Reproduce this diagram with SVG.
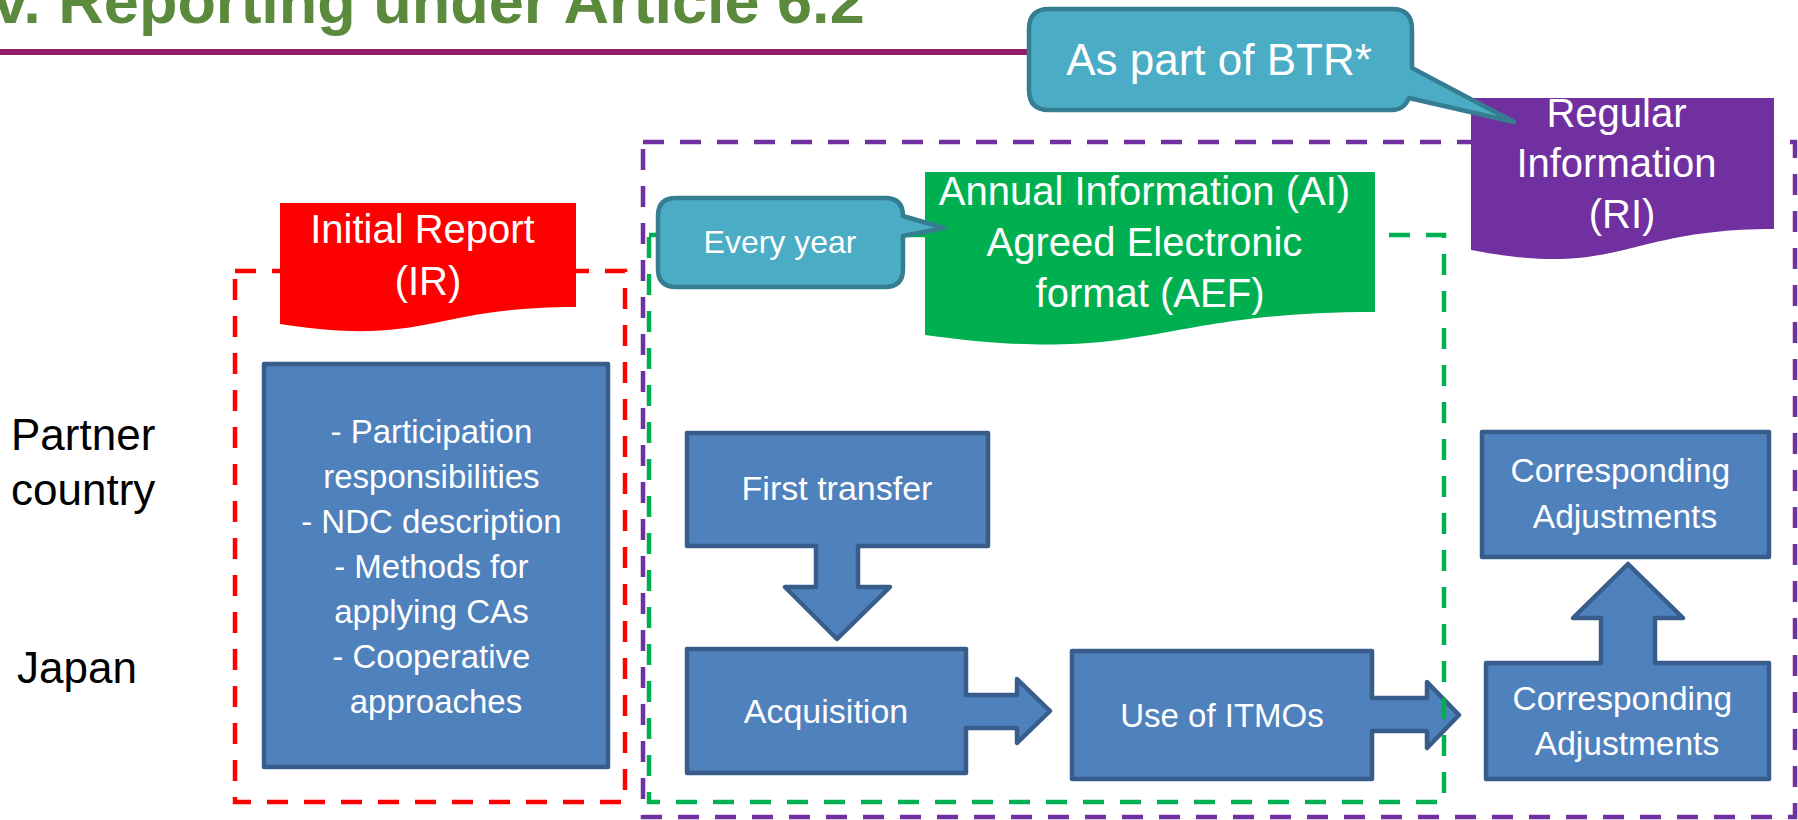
<svg xmlns="http://www.w3.org/2000/svg" width="1798" height="820" viewBox="0 0 1798 820">
<style>
  text { font-family: "Liberation Sans", Arial, sans-serif; }
  .w { fill: #FFFFFF; text-anchor: middle; }
  .blue { fill: #4F81BD; stroke: #385D8A; stroke-width: 4.5; stroke-linejoin: round; }
  .call { fill: #4BACC6; stroke: #357D91; stroke-width: 4.5; stroke-linejoin: round; }
  .dash { fill: none; stroke-width: 4.5; stroke-dasharray: 21 16; }
  .lbl { fill: #000000; font-size: 44px; }
</style>
<rect width="1798" height="820" fill="#FFFFFF"/>

<g id="title">
  <text x="-7" y="23" font-size="63" font-weight="bold" fill="#5B8A3C">v. Reporting under Article 6.2</text>
  <rect x="0" y="49" width="1040" height="6" fill="#951B6B"/>
</g>

<g id="row-labels">
  <text class="lbl" x="11" y="450">Partner</text>
  <text class="lbl" x="11" y="505">country</text>
  <text class="lbl" x="17" y="683" font-size="43">Japan</text>
</g>

<g id="ir-content">
  <rect class="blue" x="264" y="364" width="344" height="403"/>
  <text class="w" font-size="33" x="436">
    <tspan x="436" y="443">- Participation</tspan>
    <tspan x="436" y="488">responsibilities</tspan>
    <tspan x="436" y="533">- NDC description</tspan>
    <tspan x="436" y="578">- Methods for</tspan>
    <tspan x="436" y="623">applying CAs</tspan>
    <tspan x="436" y="668">- Cooperative</tspan>
    <tspan x="436" y="713">approaches</tspan>
  </text>
</g>

<g id="connectors">
  <!-- arrows are part of the block-arrow shapes below -->
</g>

<g id="first-transfer">
  <path class="blue" d="M687,433 H988 V546 H858 V587 H890 L837,639 L785,587 H816 V546 H687 Z"/>
  <text class="w" font-size="34" x="837" y="500">First transfer</text>
</g>

<g id="acquisition">
  <path class="blue" d="M687,649 H966 V695 H1017 V679 L1050,711 L1017,743 V728 H966 V773 H687 Z"/>
  <text class="w" font-size="34" x="826" y="723">Acquisition</text>
</g>

<g id="use-itmos">
  <path class="blue" d="M1072,651 H1372 V698 H1427 V682 L1459,715 L1427,748 V731 H1372 V779 H1072 Z"/>
  <text class="w" font-size="33" x="1222" y="727">Use of ITMOs</text>
</g>

<g id="ca-japan">
  <path class="blue" d="M1486,663 H1601 V618 H1573 L1628,564 L1683,618 H1655 V663 H1769 V779 H1486 Z"/>
  <text class="w" font-size="33.5" x="1627">
    <tspan x="1627" y="710">Corresponding</tspan>
    <tspan x="1627" y="755">Adjustments</tspan>
  </text>
</g>

<g id="ca-partner">
  <rect class="blue" x="1482" y="432" width="287" height="125"/>
  <text class="w" font-size="33.5" x="1625">
    <tspan x="1625" y="482">Corresponding</tspan>
    <tspan x="1625" y="528">Adjustments</tspan>
  </text>
</g>

<g id="frames">
  <rect class="dash" x="235" y="271" width="390" height="531" stroke="#FF0000"/>
  <rect class="dash" x="643" y="142" width="1152" height="675" stroke="#7030A0"/>
  <rect class="dash" x="649" y="235" width="795" height="567" stroke="#00B050"/>
</g>

<g id="initial-report">
  <path fill="#FF0000" d="M280,203 H576 V307 C428,307 428,347 280,324 Z"/>
  <text class="w" font-size="40" x="428">
    <tspan x="428" y="243">Initial Report</tspan>
    <tspan x="428" y="295">(IR)</tspan>
  </text>
</g>

<g id="annual-information">
  <path fill="#00B050" d="M925,172 H1375 V312 C1150,312 1150,366 925,335 Z"/>
  <text class="w" font-size="40" x="1150">
    <tspan x="1150" y="205">Annual Information (AI)</tspan>
    <tspan x="1150" y="256">Agreed Electronic</tspan>
    <tspan x="1150" y="307">format (AEF)</tspan>
  </text>
</g>

<g id="regular-information">
  <path fill="#7030A0" d="M1471,98 H1774 V229 C1622,229 1622,279 1471,250 Z"/>
  <text class="w" font-size="40" x="1622">
    <tspan x="1622" y="127">Regular</tspan>
    <tspan x="1622" y="177">Information</tspan>
    <tspan x="1622" y="228">(RI)</tspan>
  </text>
</g>

<g id="every-year">
  <path class="call" d="M676,198 H885 Q903,198 903,216 L944,228 L903,236 V269 Q903,287 885,287 H676 Q658,287 658,269 V216 Q658,198 676,198 Z"/>
  <text class="w" font-size="32" x="780" y="253">Every year</text>
</g>

<g id="as-part-of-btr">
  <path class="call" d="M1049,9 H1392 Q1412,9 1412,29 V68 L1514,122 L1409,98 Q1404,110 1392,110 H1049 Q1029,110 1029,90 V29 Q1029,9 1049,9 Z"/>
  <text class="w" font-size="44" x="1219" y="75">As part of BTR*</text>
</g>
</svg>
